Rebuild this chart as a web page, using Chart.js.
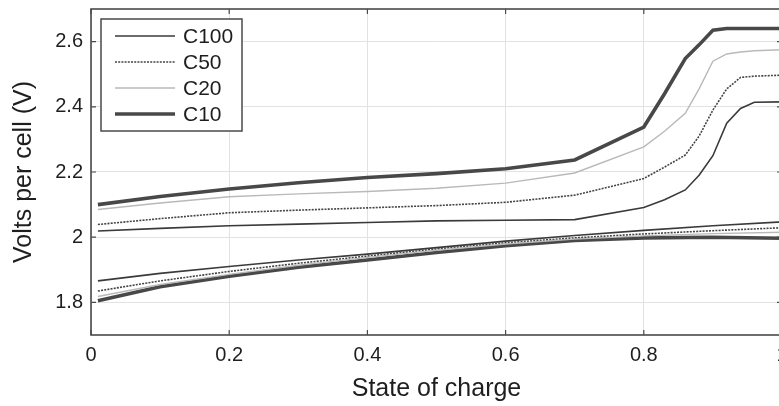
<!DOCTYPE html>
<html><head><meta charset="utf-8">
<script src="https://cdn.jsdelivr.net/npm/chart.js@4.4.1/dist/chart.umd.min.js"></script>
<style>
html,body{margin:0;padding:0;background:#fff;overflow:hidden;width:779px;height:406px}
#wrap{width:802px;height:422px;margin-top:-16px}
canvas{display:block}
</style></head><body>
<div id="wrap"><canvas id="c" width="802" height="422"></canvas></div>
<script>
// ---- data ----
const seriesNames = ['C100', 'C50', 'C20', 'C10'];

const socCharge = [0.01, 0.1, 0.2, 0.3, 0.4, 0.5, 0.6, 0.7, 0.8, 0.83, 0.86, 0.88, 0.9, 0.92, 0.94, 0.96, 1.0];
const c100Charge = [2.019, 2.027, 2.035, 2.040, 2.045, 2.050, 2.052, 2.054, 2.091, 2.115, 2.145, 2.190, 2.250, 2.350, 2.395, 2.414, 2.415];
const c50Charge  = [2.039, 2.057, 2.075, 2.083, 2.090, 2.097, 2.107, 2.129, 2.180, 2.215, 2.252, 2.310, 2.390, 2.455, 2.490, 2.494, 2.497];
const c20Charge  = [2.085, 2.105, 2.124, 2.133, 2.140, 2.150, 2.166, 2.197, 2.277, 2.325, 2.380, 2.455, 2.540, 2.562, 2.568, 2.572, 2.575];
const c10Charge  = [2.100, 2.125, 2.148, 2.167, 2.183, 2.195, 2.210, 2.237, 2.338, 2.440, 2.548, 2.590, 2.635, 2.640, 2.640, 2.640, 2.640];

const socDischarge = [0.01, 0.1, 0.2, 0.3, 0.4, 0.5, 0.6, 0.7, 0.8, 0.9, 1.0];
const c100Discharge = [1.866, 1.889, 1.910, 1.930, 1.948, 1.968, 1.988, 2.005, 2.021, 2.035, 2.047];
const c50Discharge  = [1.835, 1.866, 1.895, 1.920, 1.942, 1.964, 1.983, 1.998, 2.010, 2.020, 2.029];
const c20Discharge  = [1.818, 1.855, 1.886, 1.914, 1.938, 1.960, 1.979, 1.994, 2.004, 2.011, 2.015];
const c10Discharge  = [1.805, 1.848, 1.880, 1.908, 1.930, 1.953, 1.974, 1.990, 1.998, 2.000, 1.997];

const xTicks = [0, 0.2, 0.4, 0.6, 0.8, 1];
const yTicks = [1.8, 2, 2.2, 2.4, 2.6];
const xTitle = 'State of charge';
const yTitle = 'Volts per cell (V)';

// ---- styles ----
const styleOf = {
  C100: {color: '#3a3a3a', width: 1.6, dash: []},
  C50:  {color: '#444444', width: 1.6, dash: [2, 1.2]},
  C20:  {color: '#b9b9b9', width: 1.4, dash: []},
  C10:  {color: '#484848', width: 3.6, dash: []}
};
const chargeData = {C100: c100Charge, C50: c50Charge, C20: c20Charge, C10: c10Charge};
const dischargeData = {C100: c100Discharge, C50: c50Discharge, C20: c20Discharge, C10: c10Discharge};

const FONT = '"Liberation Sans", Arial, Helvetica, sans-serif';
const FRAME = '#4a4a4a';

function mk(label, xs, ys, st, legend) {
  return {
    label: label,
    data: xs.map((x, i) => ({x: x, y: ys[i]})),
    borderColor: st.color,
    borderWidth: st.width,
    borderDash: st.dash,
    pointRadius: 0,
    tension: 0,
    fill: false,
    showInLegend: legend
  };
}
const datasets = [];
['C20', 'C50', 'C100', 'C10'].forEach(n => {
  datasets.push(mk(n, socCharge, chargeData[n], styleOf[n], true));
  datasets.push(mk(n, socDischarge, dischargeData[n], styleOf[n], false));
});

const framePlugin = {
  id: 'frame',
  afterDatasetsDraw(chart) {
    const {ctx, chartArea: a, scales} = chart;
    ctx.save();
    ctx.strokeStyle = FRAME;
    ctx.lineWidth = 1.6;
    ctx.setLineDash([]);
    ctx.strokeRect(a.left, a.top, a.right - a.left, a.bottom - a.top);
    const tl = 5;
    ctx.lineWidth = 1.2;
    ctx.beginPath();
    xTicks.forEach(v => {
      const px = scales.x.getPixelForValue(v);
      ctx.moveTo(px, a.bottom); ctx.lineTo(px, a.bottom - tl);
      ctx.moveTo(px, a.top); ctx.lineTo(px, a.top + tl);
    });
    yTicks.forEach(v => {
      const py = scales.y.getPixelForValue(v);
      ctx.moveTo(a.left, py); ctx.lineTo(a.left + tl, py);
      ctx.moveTo(a.right, py); ctx.lineTo(a.right - tl, py);
    });
    ctx.stroke();

    // legend box
    const bx = a.left + 10, by = a.top + 10, bw = 141, bh = 112;
    ctx.fillStyle = '#fff';
    ctx.fillRect(bx, by, bw, bh);
    ctx.strokeStyle = FRAME;
    ctx.lineWidth = 1.5;
    ctx.strokeRect(bx, by, bw, bh);
    ctx.font = '21px ' + FONT;
    ctx.textBaseline = 'alphabetic';
    ctx.textAlign = 'left';
    seriesNames.forEach((n, i) => {
      const ds = chart.data.datasets.find(d => d.label === n && d.showInLegend);
      const rowY = by + 17 + i * 26;
      ctx.strokeStyle = ds.borderColor;
      ctx.lineWidth = ds.borderWidth;
      ctx.setLineDash(ds.borderDash);
      ctx.beginPath();
      ctx.moveTo(bx + 14, rowY);
      ctx.lineTo(bx + 74, rowY);
      ctx.stroke();
      ctx.setLineDash([]);
      ctx.fillStyle = '#1e1e1e';
      ctx.fillText(n, bx + 82, rowY + 7);
    });
    ctx.restore();
  }
};

const fmt = v => String(Number(Number(v).toFixed(2)));

new Chart(document.getElementById('c'), {
  type: 'line',
  data: {datasets: datasets},
  plugins: [framePlugin],
  options: {
    responsive: false,
    animation: false,
    devicePixelRatio: 1,
    layout: {padding: {top: 25, right: 20, left: 0, bottom: 0}},
    plugins: {legend: {display: false}, tooltip: {enabled: false}},
    scales: {
      x: {
        type: 'linear', min: 0, max: 1,
        afterBuildTicks: s => { s.ticks = xTicks.map(v => ({value: v})); },
        afterFit: s => { s.height = 71; },
        ticks: {callback: fmt, font: {family: FONT, size: 20}, color: '#1e1e1e', padding: 8, maxRotation: 0, autoSkip: false},
        grid: {color: '#e2e2e2', lineWidth: 1, drawTicks: false},
        border: {display: false},
        title: {display: true, text: xTitle, font: {family: FONT, size: 25}, color: '#1e1e1e', padding: {top: 0, bottom: 2}}
      },
      y: {
        type: 'linear', min: 1.7, max: 2.7,
        afterBuildTicks: s => { s.ticks = yTicks.map(v => ({value: v})); },
        afterFit: s => { s.width = 91; },
        ticks: {callback: fmt, font: {family: FONT, size: 20}, color: '#1e1e1e', padding: 8},
        grid: {color: '#e2e2e2', lineWidth: 1, drawTicks: false},
        border: {display: false},
        title: {display: true, text: yTitle, font: {family: FONT, size: 25}, color: '#1e1e1e', padding: {top: 9, bottom: 0}}
      }
    }
  }
});
</script>
</body></html>
